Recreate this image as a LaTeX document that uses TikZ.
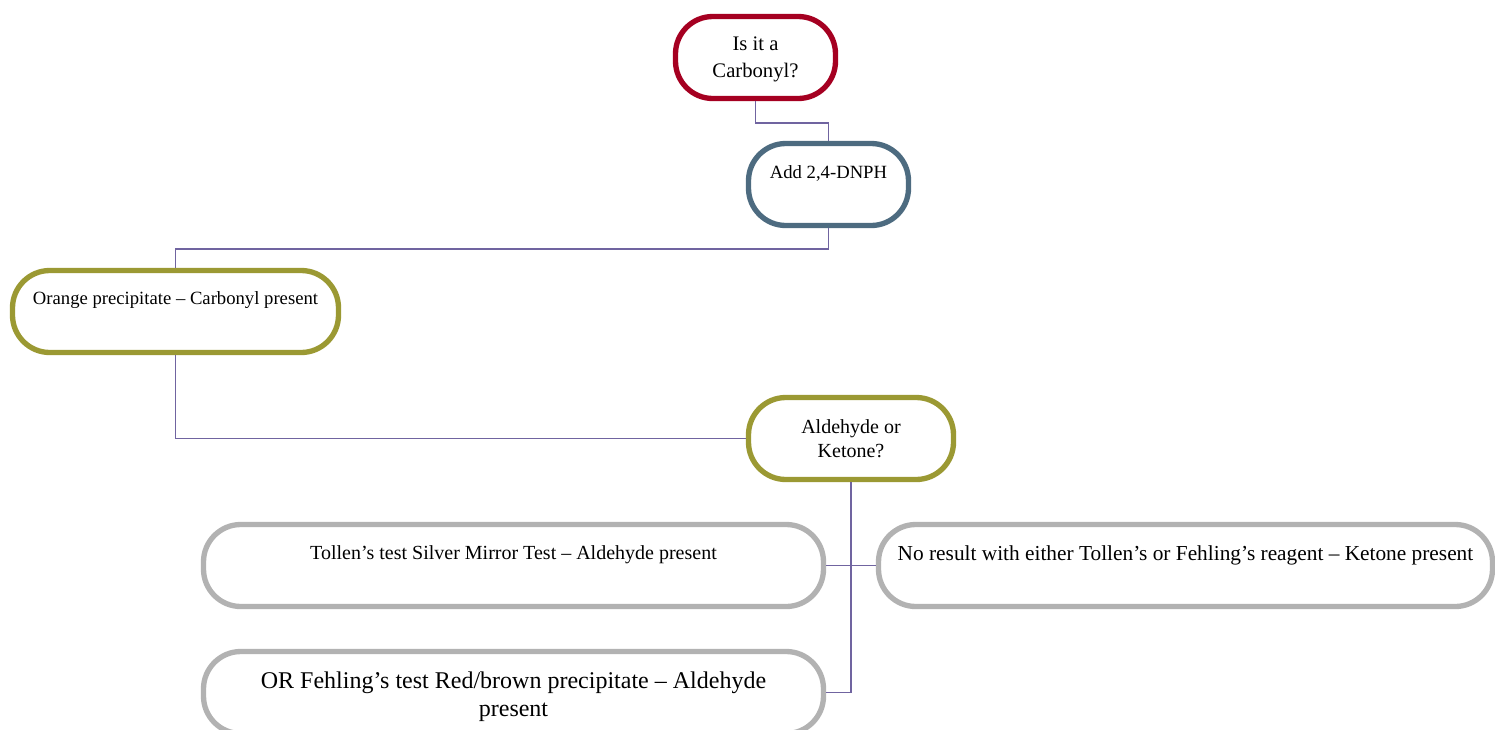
\documentclass[tikz,border=0pt]{standalone}
\usepackage{fontspec}
\setmainfont{Liberation Serif}
\definecolor{carbred}{RGB}{165,0,33}
\definecolor{slate}{RGB}{77,107,128}
\definecolor{olive}{RGB}{155,153,51}
\definecolor{pale}{RGB}{178,178,178}
\definecolor{wire}{RGB}{112,100,160}
\newcommand{\dropline}[2]{\raisebox{-#1}[\height][\depth]{#2}}
\begin{document}
\begin{tikzpicture}[
x=0.75pt, y=-0.75pt,
pill/.style={draw, line width=4pt, rounded corners=28pt, minimum height=61.5pt,
  inner sep=0pt, align=center, font=\fontsize{14.5}{18}\selectfont},
link/.style={draw=wire, line width=1.1pt}
]
\useasboundingbox (0,0) rectangle (1495,729);
\node[pill, draw=carbred, minimum width=120pt, font=\fontsize{15.5}{20}\selectfont] (carb) at (755.5,57.5) {\dropline{1.5pt}{Is it a}\\\dropline{1.5pt}{Carbonyl?}};
\node[pill, draw=slate, minimum width=120pt, font=\fontsize{14}{18}\selectfont] (dnph) at (828.5,184.5) {Add 2,4-DNPH\\[-4pt]\strut};
\node[pill, draw=olive, minimum width=244.5pt, font=\fontsize{14}{18}\selectfont] (orange) at (175.5,311.5) {Orange precipitate – Carbonyl present\\[-3pt]\strut};
\node[pill, draw=olive, minimum width=153.75pt, font=\fontsize{15}{18}\selectfont] (ald) at (851,438.5) {Aldehyde or\\Ketone?};
\node[pill, draw=pale, minimum width=465pt, font=\fontsize{15}{18}\selectfont] (tollen) at (513.5,565.5) {Tollen’s test Silver Mirror Test – Aldehyde present\\[-4pt]\strut};
\node[pill, draw=pale, minimum width=460.5pt, font=\fontsize{16}{18}\selectfont] (noresult) at (1185.5,565.5) {No result with either Tollen’s or Fehling’s reagent – Ketone present\\[-5.5pt]\strut};
\node[pill, draw=pale, minimum width=465pt, font=\fontsize{18}{21}\selectfont] (fehling) at (513.5,692.5) {\dropline{3pt}{OR Fehling’s test Red/brown precipitate – Aldehyde}\\\dropline{3pt}{present}};
\draw[link] (carb.south) -- ++(0,22) -| (dnph.north);
\draw[link] (dnph.south) -- ++(0,21) -| (orange.north);
\draw[link] (orange.south) |- (ald.west);
\draw[link] (ald.south) |- (tollen.east);
\draw[link] (ald.south) |- (noresult.west);
\draw[link] (ald.south) |- (fehling.east);
\end{tikzpicture}
\end{document}
